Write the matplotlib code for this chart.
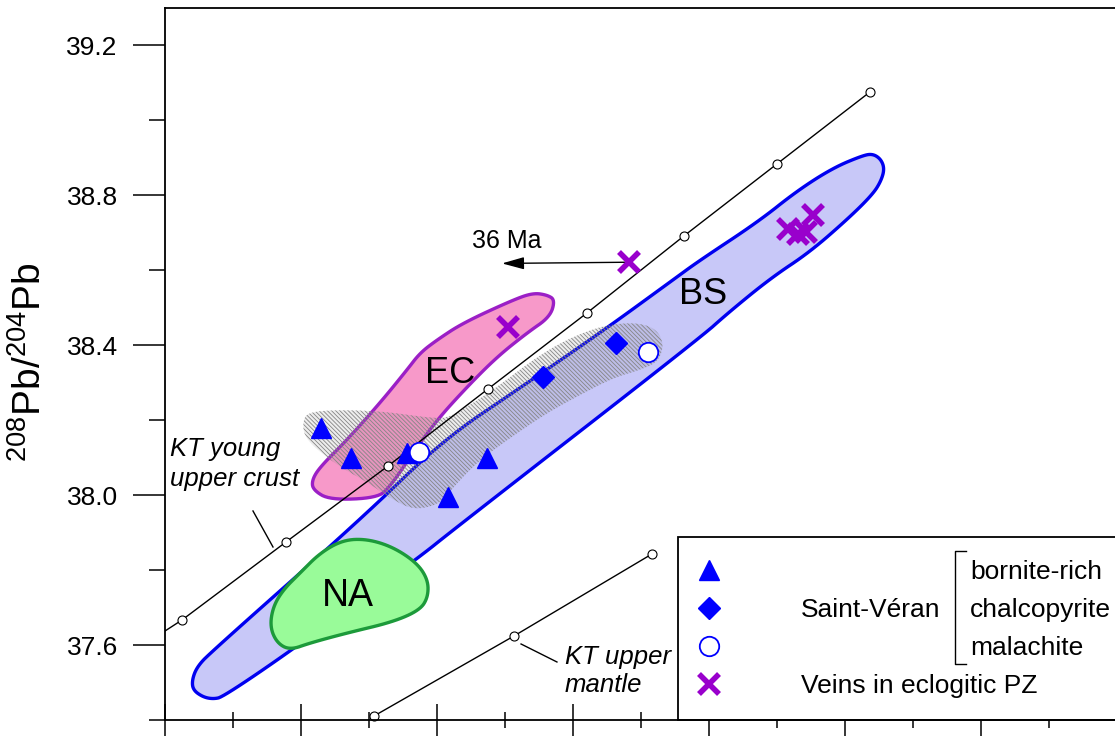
import numpy as np
import matplotlib.pyplot as plt
from matplotlib.patches import Polygon, Rectangle
from matplotlib.ticker import MultipleLocator, FormatStrFormatter

plt.rcParams['font.family'] = ['Liberation Sans', 'DejaVu Sans']
plt.rcParams['mathtext.fontset'] = 'custom'
plt.rcParams['mathtext.rm'] = 'Liberation Sans'
plt.rcParams['mathtext.it'] = 'Liberation Sans:italic'
plt.rcParams['hatch.linewidth'] = 0.6

# Saint-Veran ores (206Pb/204Pb, 208Pb/204Pb)
bornite_x = [18.4145, 18.4365, 18.4777, 18.5368, 18.5079]
bornite_y = [38.1793, 38.1001, 38.1134, 38.0993, 37.9960]
chalco_x = [18.5779, 18.6313]
chalco_y = [38.3141, 38.4049]
malach_x = [18.4870, 18.6548]
malach_y = [38.1161, 38.3809]

# veins in eclogitic Piedmont zone
veins_x = [18.5522, 18.6414, 18.7581, 18.7654, 18.7713, 18.7765]
veins_y = [38.4489, 38.6216, 38.7105, 38.6971, 38.7025, 38.7478]

# Kramers-Tolstikhin growth curves (first crust point sits on the axis edge)
kt_crust_x = [18.3000, 18.3125, 18.3890, 18.4640, 18.5375, 18.6103, 18.6816, 18.7500, 18.8184]
kt_crust_y = [37.6375, 37.6669, 37.8751, 38.0779, 38.2834, 38.4863, 38.6918, 38.8840, 39.0761]
kt_mantle_x = [18.4537, 18.5566, 18.6581]
kt_mantle_y = [37.4107, 37.6242, 37.8431]

# field outlines
bs_x = [18.3206, 18.3199, 18.3235, 18.3331, 18.4434, 18.5044, 18.5610, 18.6199, 18.6735,
        18.6926, 18.7360, 18.7647, 18.7912, 18.8132, 18.8206, 18.8265, 18.8290, 18.8265,
        18.8206, 18.8037, 18.7743, 18.7456, 18.7140, 18.6934, 18.5118, 18.4853, 18.3934,
        18.3426, 18.3353, 18.3279]
bs_y = [37.4801, 37.5068, 37.5415, 37.5788, 37.9338, 38.1473, 38.2861, 38.4329, 38.5744,
        38.6251, 38.7292, 38.8119, 38.8733, 38.9067, 38.9107, 38.8960, 38.8706, 38.8386,
        38.8039, 38.7425, 38.6491, 38.5797, 38.4863, 38.4195, 37.9071, 37.8297, 37.5868,
        37.4614, 37.4560, 37.4614]

ec_x = [18.4081, 18.4088, 18.4213, 18.4559, 18.4654, 18.4824, 18.5000, 18.5221, 18.5441,
        18.5662, 18.5831, 18.5868, 18.5809, 18.5706, 18.5559, 18.5191, 18.5000, 18.4875,
        18.4779, 18.4581, 18.4338, 18.4140]
ec_y = [38.0406, 38.0139, 37.9872, 37.9925, 38.0219, 38.1126, 38.2007, 38.2888, 38.3688,
        38.4329, 38.4756, 38.5210, 38.5343, 38.5396, 38.5210, 38.4596, 38.4142, 38.3795,
        38.3342, 38.2461, 38.1473, 38.0753]

na_x = [18.4309, 18.4485, 18.4676, 18.4853, 18.4934, 18.4934, 18.4875, 18.4676, 18.4338,
        18.4066, 18.3919, 18.3824, 18.3772, 18.3794, 18.3868, 18.3993, 18.4140]
na_y = [37.8804, 37.8831, 37.8617, 37.8190, 37.7737, 37.7283, 37.6936, 37.6616, 37.6322,
        37.6055, 37.5868, 37.6055, 37.6482, 37.7016, 37.7470, 37.7923, 37.8457]

sv_x = [18.4022, 18.4015, 18.4044, 18.4213, 18.4581, 18.4949, 18.5081, 18.5243, 18.5463,
        18.5684, 18.5904, 18.6125, 18.6294, 18.6493, 18.6618, 18.6669, 18.6625, 18.6493,
        18.6294, 18.6051, 18.5809, 18.5537, 18.5316, 18.5169, 18.5074, 18.5000, 18.4824,
        18.4654, 18.4485, 18.4287, 18.4103]
sv_y = [38.1607, 38.1954, 38.2194, 38.2274, 38.2247, 38.2060, 38.2060, 38.2407, 38.2941,
        38.3555, 38.4062, 38.4409, 38.4569, 38.4596, 38.4409, 38.4009, 38.3555, 38.3342,
        38.3128, 38.2674, 38.2194, 38.1527, 38.0939, 38.0406, 38.0005, 37.9738, 37.9605,
        37.9925, 38.0352, 38.0753, 38.1260]

age_arrow_head = (18.5478, 38.6184)

BLUE = '#0000ff'
PURPLE = '#9900cc'


def smooth(xs, ys, n=3):
    # chaikin corner cutting on a closed outline
    pts = np.column_stack([xs, ys])
    for _ in range(n):
        nxt = np.roll(pts, -1, axis=0)
        out = np.empty((2 * len(pts), 2))
        out[0::2] = 0.75 * pts + 0.25 * nxt
        out[1::2] = 0.25 * pts + 0.75 * nxt
        pts = out
    return pts


fig = plt.figure(figsize=(11.15, 7.36), dpi=100)
ax = fig.add_axes([165 / 1115, 16 / 736, 952 / 1115, 712 / 736])
ax.set_xlim(18.3, 19.0)
ax.set_ylim(37.4, 39.3)

ax.add_patch(Polygon(smooth(bs_x, bs_y), closed=True, fc='#c8c8f8', ec='#0000f0', lw=2.4, zorder=1))
ax.add_patch(Polygon(smooth(na_x, na_y), closed=True, fc='#99fb99', ec='#1c9a3a', lw=2.4, zorder=1.1))
ax.add_patch(Polygon(smooth(ec_x, ec_y), closed=True, fc='#f799c9', ec='#9b1fc6', lw=2.4, zorder=1.2))
sv = smooth(sv_x, sv_y)
ax.add_patch(Polygon(sv, closed=True, fc='#808080', alpha=0.14, lw=0, zorder=1.3))
ax.add_patch(Polygon(sv, closed=True, fc='none', ec='#858585', lw=0, hatch='\\\\\\\\\\\\\\\\', zorder=1.3))

ax.text(18.6960, 38.5103, 'BS', fontsize=26, ha='center', va='baseline', zorder=3)
ax.text(18.5096, 38.2995, 'EC', fontsize=26, ha='center', va='baseline', zorder=3)
ax.text(18.4346, 37.7043, 'NA', fontsize=27, ha='center', va='baseline', zorder=3)

# growth curves
ax.plot(kt_crust_x, kt_crust_y, color='black', lw=1.0, zorder=1.5)
ax.plot(kt_crust_x[1:], kt_crust_y[1:], ls='none', marker='o', ms=6.5, mfc='white',
        mec='black', mew=0.8, zorder=1.6)
ax.plot(kt_mantle_x, kt_mantle_y, color='black', lw=1.0, marker='o', ms=6.5, mfc='white',
        mec='black', mew=0.8, zorder=1.6, clip_on=False)

ax.plot([18.3647, 18.3794], [37.9578, 37.8617], color='black', lw=1.0)
ax.text(18.3037, 38.1040, 'KT young', fontsize=18.5, style='italic', va='baseline')
ax.text(18.3037, 38.0240, 'upper crust', fontsize=18.5, style='italic', va='baseline')
ax.plot([18.5618, 18.5882], [37.6028, 37.5548], color='black', lw=1.0)
ax.text(18.5941, 37.5495, 'KT upper', fontsize=18.5, style='italic', va='baseline')
ax.text(18.5941, 37.4747, 'mantle', fontsize=18.5, style='italic', va='baseline')

# 36 Ma shift of the upper vein sample
ax.annotate('', xy=age_arrow_head, xytext=(veins_x[1], veins_y[1]),
            arrowprops=dict(arrowstyle='-|>,head_length=0.9,head_width=0.25',
                            mutation_scale=15, color='black', lw=1.0, shrinkA=0, shrinkB=0),
            zorder=1.7)
ax.text(18.5515, 38.6598, '36 Ma', fontsize=18, ha='center', va='baseline')

ax.plot(bornite_x, bornite_y, ls='none', marker='^', ms=15, color=BLUE, zorder=2)
ax.plot(chalco_x, chalco_y, ls='none', marker='D', ms=11.5, color=BLUE, zorder=2)
ax.plot(malach_x, malach_y, ls='none', marker='o', ms=14, mfc='white', mec=BLUE, mew=1.3, zorder=2)
ax.plot(veins_x, veins_y, ls='none', marker='x', ms=14, color=PURPLE, mew=4, zorder=2.1)

# legend box
ax.add_patch(Rectangle((0.5389, 0), 0.6, 0.257, transform=ax.transAxes, fc='white',
                       ec='black', lw=1.3, zorder=2.2, clip_on=False))
kx = 0.5714
ax.plot(kx, 0.2107, transform=ax.transAxes, marker='^', ms=15, color=BLUE, zorder=3)
ax.plot(kx, 0.1573, transform=ax.transAxes, marker='D', ms=11.5, color=BLUE, zorder=3)
ax.plot(kx, 0.1039, transform=ax.transAxes, marker='o', ms=14, mfc='white', mec=BLUE, mew=1.3, zorder=3)
ax.plot(kx, 0.0506, transform=ax.transAxes, marker='x', ms=14, color=PURPLE, mew=4, zorder=3)
ax.text(0.6681, 0.1447, 'Saint-Véran', transform=ax.transAxes, fontsize=19, va='baseline', zorder=3)
ax.text(0.6681, 0.0379, 'Veins in eclogitic PZ', transform=ax.transAxes, fontsize=19, va='baseline', zorder=3)
ax.plot([0.8414, 0.8298, 0.8298, 0.8414], [0.2374, 0.2374, 0.0787, 0.0787],
        transform=ax.transAxes, color='black', lw=1.0, zorder=3, clip_on=False)
for label, yy in zip(['bornite-rich', 'chalcopyrite', 'malachite'], [0.1980, 0.1447, 0.0913]):
    ax.text(0.8456, yy, label, transform=ax.transAxes, fontsize=19, va='baseline', zorder=3)

# axes styling
for side in ['top', 'left', 'bottom']:
    ax.spines[side].set_linewidth(1.3)
ax.spines['right'].set_visible(False)
ax.xaxis.set_major_locator(MultipleLocator(0.1))
ax.xaxis.set_minor_locator(MultipleLocator(0.05))
ax.yaxis.set_major_locator(MultipleLocator(0.4))
ax.yaxis.set_minor_locator(MultipleLocator(0.2))
ax.yaxis.set_major_formatter(FormatStrFormatter('%.1f'))
ax.tick_params(axis='x', which='major', direction='inout', length=23, width=1.1, labelbottom=False)
ax.tick_params(axis='x', which='minor', direction='inout', length=12, width=1.1)
ax.tick_params(axis='y', which='major', direction='out', length=23, width=1.1, labelsize=19, pad=11)
ax.tick_params(axis='y', which='minor', direction='out', length=11.5, width=1.1)

fig.text(30 / 1115, 1 - 362 / 736, r'$^{208}$Pb/$^{204}$Pb', rotation=90, fontsize=28,
         ha='center', va='center')

fig.savefig('out.png', dpi=100)
